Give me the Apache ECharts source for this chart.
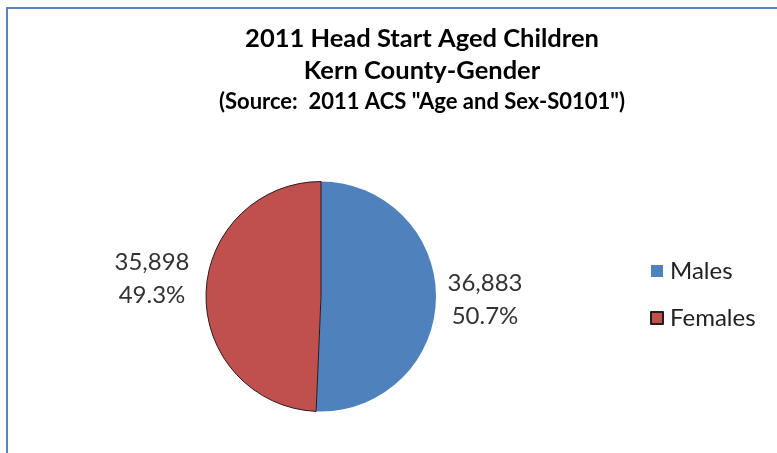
<!DOCTYPE html>
<html>
<head>
<meta charset="utf-8">
<script src="https://cdn.jsdelivr.net/npm/echarts@6/dist/echarts.min.js"></script>
<style>
  html, body { margin: 0; padding: 0; background: #fff; }
  #chart { width: 777px; height: 453px; }
</style>
</head>
<body>
<div id="chart"></div>
<script>
// Head Start aged children in Kern County, split by gender (2011 ACS)
const categories = ['Males', 'Females'];
const counts = [36883, 35898];
const colors = ['#4F81BD', '#C0504D'];

const titleLines = [
  '2011 Head Start Aged Children',
  'Kern County-Gender',
  '(Source:  2011 ACS "Age and Sex-S0101")'
];

const FONT = 'Lato, "Open Sans", sans-serif';

function withCommas(n) {
  return String(n).replace(/\B(?=(\d{3})+(?!\d))/g, ',');
}

const chart = echarts.init(document.getElementById('chart'), null, { renderer: 'canvas' });

chart.setOption({
  animation: false,
  backgroundColor: '#ffffff',
  color: colors,
  title: {
    text: titleLines[0] + '\n' + titleLines[1],
    subtext: titleLines[2],
    left: 417,
    textAlign: 'center',
    top: 18,
    itemGap: 4,
    textStyle: { fontFamily: FONT, fontSize: 25.5, fontWeight: 'bold', color: '#000', lineHeight: 32 },
    subtextStyle: { fontFamily: FONT, fontSize: 22, fontWeight: 'bold', color: '#000', lineHeight: 22 }
  },
  legend: {
    orient: 'vertical',
    left: 645,
    top: 254,
    itemGap: 23,
    itemWidth: 12,
    itemHeight: 12,
    icon: 'rect',
    data: categories,
    textStyle: { fontFamily: FONT, fontSize: 24, color: '#222', padding: [0, 0, 0, 2] }
  },
  graphic: [{
    type: 'rect',
    silent: true,
    shape: { x: 7, y: 8, width: 820, height: 500 },
    style: { fill: 'none', stroke: '#5585c2', lineWidth: 2 }
  }],
  series: [{
    type: 'pie',
    center: [321, 296.5],
    radius: 115,
    startAngle: 90,
    clockwise: true,
    percentPrecision: 1,
    data: categories.map((name, i) => ({
      name,
      value: counts[i],
      itemStyle: i === 1
        ? { color: colors[i], borderColor: '#2a1a1a', borderWidth: 1 }
        : { color: colors[i], borderWidth: 0 }
    })),
    label: {
      show: true,
      position: 'outside',
      formatter: p => withCommas(p.value) + '\n' + p.percent.toFixed(1) + '%',
      fontFamily: FONT,
      fontSize: 24,
      lineHeight: 33,
      color: '#333',
      align: 'center'
    },
    labelLine: { show: false },
    labelLayout: p => {
      const right = p.dataIndex === 0;
      return {
        x: right ? 485 : 152,
        y: right ? 300 : 279,
        align: 'center',
        verticalAlign: 'middle'
      };
    },
    emphasis: { disabled: true }
  }]
});
</script>
</body>
</html>
